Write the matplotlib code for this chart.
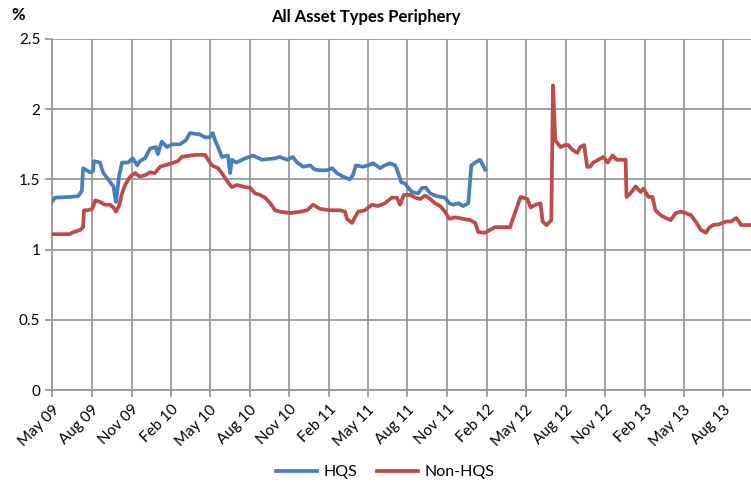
import matplotlib
matplotlib.use("Agg")
import matplotlib.pyplot as plt
import matplotlib.dates as mdates
import pandas as pd

# HQS series
hqs_dates = ['2009-05-01', '2009-05-08', '2009-06-11', '2009-06-30', '2009-07-05', '2009-07-09',
             '2009-07-12', '2009-07-28', '2009-08-04', '2009-08-06', '2009-08-20', '2009-08-27',
             '2009-09-08', '2009-09-20', '2009-09-26', '2009-10-03', '2009-10-10', '2009-10-24',
             '2009-11-04', '2009-11-14', '2009-11-20', '2009-12-02', '2009-12-14', '2009-12-27',
             '2010-01-01', '2010-01-10', '2010-01-22', '2010-02-02', '2010-02-21', '2010-03-07',
             '2010-03-16', '2010-04-08', '2010-04-20', '2010-05-01', '2010-05-08', '2010-05-13',
             '2010-05-20', '2010-05-29', '2010-06-12', '2010-06-17', '2010-06-21', '2010-07-01',
             '2010-07-22', '2010-08-09', '2010-08-30', '2010-09-29', '2010-10-10', '2010-10-27',
             '2010-11-09', '2010-11-19', '2010-12-03', '2010-12-19', '2010-12-30', '2011-01-11',
             '2011-01-27', '2011-02-08', '2011-02-19', '2011-03-05', '2011-03-21', '2011-03-28',
             '2011-04-04', '2011-04-20', '2011-05-02', '2011-05-14', '2011-05-30', '2011-06-10',
             '2011-06-22', '2011-07-04', '2011-07-11', '2011-07-18', '2011-07-27', '2011-08-03',
             '2011-08-12', '2011-08-26', '2011-09-04', '2011-09-13', '2011-09-23', '2011-10-09',
             '2011-10-27', '2011-11-06', '2011-11-15', '2011-11-27', '2011-12-08', '2011-12-20',
             '2011-12-27', '2012-01-05', '2012-01-16', '2012-01-23', '2012-01-28']
hqs_vals = [1.34, 1.37, 1.375, 1.38, 1.40, 1.42,
            1.58, 1.55, 1.56, 1.63, 1.62, 1.55,
            1.50, 1.45, 1.34, 1.52, 1.62, 1.62,
            1.65, 1.60, 1.63, 1.65, 1.72, 1.73,
            1.68, 1.77, 1.73, 1.75, 1.75, 1.78,
            1.83, 1.82, 1.80, 1.80, 1.83, 1.78,
            1.73, 1.66, 1.67, 1.545, 1.64, 1.62,
            1.65, 1.67, 1.64, 1.65, 1.66, 1.64,
            1.66, 1.62, 1.59, 1.60, 1.57, 1.565,
            1.565, 1.58, 1.545, 1.52, 1.50, 1.53,
            1.60, 1.59, 1.60, 1.615, 1.58, 1.60,
            1.615, 1.60, 1.545, 1.48, 1.47, 1.44,
            1.41, 1.40, 1.44, 1.44, 1.40, 1.38,
            1.37, 1.33, 1.32, 1.33, 1.31, 1.33,
            1.60, 1.62, 1.64, 1.60, 1.57]

# Non-HQS series
non_dates = ['2009-05-01', '2009-06-11', '2009-06-16', '2009-07-05', '2009-07-12', '2009-07-14',
             '2009-07-23', '2009-08-02', '2009-08-09', '2009-08-20', '2009-08-31', '2009-09-12',
             '2009-09-20', '2009-09-26', '2009-10-03', '2009-10-10', '2009-10-17', '2009-10-29',
             '2009-11-09', '2009-11-20', '2009-12-02', '2009-12-14', '2009-12-25', '2010-01-06',
             '2010-01-17', '2010-02-02', '2010-02-16', '2010-02-25', '2010-03-16', '2010-04-01',
             '2010-04-20', '2010-04-27', '2010-05-06', '2010-05-20', '2010-05-29', '2010-06-12',
             '2010-06-21', '2010-07-03', '2010-07-22', '2010-08-02', '2010-08-14', '2010-08-25',
             '2010-09-06', '2010-09-18', '2010-09-29', '2010-10-10', '2010-11-03', '2010-11-26',
             '2010-12-12', '2010-12-26', '2011-01-11', '2011-02-03', '2011-02-26', '2011-03-10',
             '2011-03-14', '2011-03-26', '2011-04-02', '2011-04-09', '2011-04-25', '2011-05-11',
             '2011-05-25', '2011-06-10', '2011-06-26', '2011-07-08', '2011-07-15', '2011-07-24',
             '2011-08-07', '2011-08-19', '2011-08-31', '2011-09-11', '2011-09-23', '2011-10-04',
             '2011-10-16', '2011-10-27', '2011-11-06', '2011-11-20', '2011-12-06', '2011-12-25',
             '2012-01-05', '2012-01-12', '2012-01-28', '2012-02-08', '2012-02-20', '2012-03-26',
             '2012-03-31', '2012-04-07', '2012-04-19', '2012-05-05', '2012-05-12', '2012-05-24',
             '2012-06-04', '2012-06-09', '2012-06-18', '2012-06-29', '2012-07-03', '2012-07-08',
             '2012-07-20', '2012-07-31', '2012-08-07', '2012-08-17', '2012-08-28', '2012-09-04',
             '2012-09-13', '2012-09-20', '2012-09-27', '2012-10-04', '2012-10-16', '2012-10-28',
             '2012-11-06', '2012-11-18', '2012-11-27', '2012-12-18', '2012-12-20', '2012-12-29',
             '2013-01-10', '2013-01-22', '2013-01-28', '2013-02-09', '2013-02-18', '2013-02-25',
             '2013-03-09', '2013-03-21', '2013-04-01', '2013-04-13', '2013-04-25', '2013-05-06',
             '2013-05-18', '2013-05-29', '2013-06-10', '2013-06-22', '2013-06-29', '2013-07-08',
             '2013-07-22', '2013-08-07', '2013-08-19', '2013-08-31', '2013-09-06', '2013-09-11',
             '2013-10-04']
non_vals = [1.11, 1.11, 1.12, 1.14, 1.16, 1.28,
            1.28, 1.29, 1.35, 1.34, 1.32, 1.32,
            1.30, 1.27, 1.31, 1.40, 1.46, 1.52,
            1.545, 1.52, 1.53, 1.55, 1.545, 1.59,
            1.60, 1.615, 1.63, 1.66, 1.67, 1.675,
            1.675, 1.64, 1.60, 1.58, 1.545, 1.48,
            1.445, 1.46, 1.445, 1.44, 1.40, 1.39,
            1.37, 1.33, 1.28, 1.27, 1.26, 1.27,
            1.28, 1.32, 1.29, 1.28, 1.28, 1.27,
            1.22, 1.19, 1.23, 1.27, 1.28, 1.32,
            1.31, 1.33, 1.37, 1.37, 1.32, 1.39,
            1.39, 1.37, 1.36, 1.385, 1.36, 1.33,
            1.31, 1.27, 1.22, 1.23, 1.22, 1.21,
            1.19, 1.125, 1.12, 1.14, 1.16, 1.16,
            1.21, 1.27, 1.375, 1.36, 1.30, 1.32,
            1.33, 1.20, 1.175, 1.21, 2.17, 1.78,
            1.73, 1.745, 1.745, 1.71, 1.69, 1.73,
            1.745, 1.59, 1.59, 1.62, 1.64, 1.66,
            1.62, 1.67, 1.64, 1.64, 1.375, 1.40,
            1.45, 1.41, 1.435, 1.375, 1.375, 1.28,
            1.245, 1.225, 1.21, 1.26, 1.27, 1.26,
            1.245, 1.20, 1.14, 1.12, 1.155, 1.175,
            1.18, 1.20, 1.20, 1.225, 1.20, 1.175,
            1.175]

y_ticks = [0, 0.5, 1, 1.5, 2, 2.5]
y_labels = ['0', '0.5', '1', '1.5', '2', '2.5']

plt.rcParams['font.family'] = ['Lato', 'DejaVu Sans']

fig = plt.figure(figsize=(7.51, 4.94), dpi=100)
ax = fig.add_axes([52 / 751, 1 - 390 / 494, 1 - 52 / 751, (390 - 39) / 494])

grid_c = '#9a9a9a'
ax.plot(pd.to_datetime(hqs_dates), hqs_vals, color='#4a7ebb', lw=2.7, label='HQS',
        solid_joinstyle='round', zorder=3)
ax.plot(pd.to_datetime(non_dates), non_vals, color='#be4b48', lw=2.7, label='Non-HQS',
        solid_joinstyle='round', zorder=3)

ax.set_xlim(pd.Timestamp('2009-05-01'), pd.Timestamp('2013-10-04'))
ax.set_ylim(0, 2.5)
ax.set_yticks(y_ticks)
ax.set_yticklabels(y_labels)
ax.xaxis.set_major_locator(mdates.MonthLocator(bymonth=[2, 5, 8, 11]))
ax.xaxis.set_major_formatter(mdates.DateFormatter('%b %y'))
for lbl in ax.get_xticklabels():
    lbl.set_rotation(45)
    lbl.set_ha('right')
    lbl.set_rotation_mode('anchor')

ax.grid(True, color=grid_c, lw=1.3)
ax.set_axisbelow(True)
for s in ['top', 'right']:
    ax.spines[s].set_visible(False)
for s in ['left', 'bottom']:
    ax.spines[s].set_color(grid_c)
    ax.spines[s].set_linewidth(1.3)
ax.tick_params(axis='both', colors=grid_c, length=5, width=1.3, labelcolor='black',
               labelsize=11)
ax.tick_params(axis='x', pad=4)

fig.text(366 / 751, 1 - 17 / 494, 'All Asset Types Periphery', ha='center', va='center',
         fontsize=12, fontweight='bold')
fig.text(18 / 751, 1 - 15 / 494, '%', ha='center', va='center', fontsize=12, fontweight='bold')

fig.legend(loc='center', bbox_to_anchor=(385 / 751, 1 - 472 / 494), ncol=2, frameon=False,
           fontsize=11.5, handlelength=2.6, columnspacing=1.2, handletextpad=0.4)

fig.savefig('out.png', dpi=100)
